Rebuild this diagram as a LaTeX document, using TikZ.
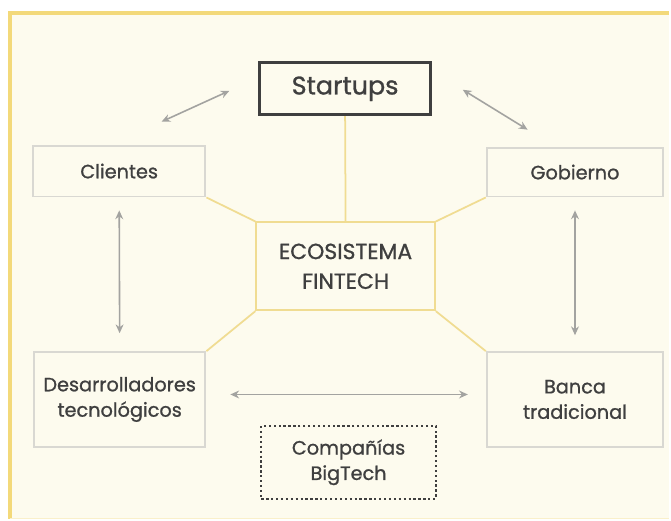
\documentclass[tikz,border=0pt]{standalone}
\usepackage{fontspec}
\setmainfont{Poppins}[FakeBold=1]
\usetikzlibrary{arrows.meta}
\definecolor{cream}{HTML}{FDFBEE}
\definecolor{frameyellow}{HTML}{F3D97A}
\definecolor{linkyellow}{HTML}{F0DC92}
\definecolor{boxgray}{HTML}{D9D8D2}
\definecolor{arrowgray}{HTML}{A3A3A0}
\definecolor{textgray}{HTML}{3F3F3F}
\tikzset{
  actor/.style={draw=boxgray, line width=1.1pt, text=textgray, align=center,
    font=\fontsize{11}{14.5}\selectfont, inner sep=0pt},
  hub/.style={draw=linkyellow, line width=1.1pt, text=textgray, align=center,
    font=\fontsize{12.5}{17}\selectfont, inner sep=0pt},
  link/.style={draw=linkyellow, line width=1pt},
  biarrow/.style={draw=arrowgray, line width=0.9pt, {Stealth[length=5pt,width=4.5pt]}-{Stealth[length=5pt,width=4.5pt]}}
}

\begin{document}
\begin{tikzpicture}[x=0.02cm, y=-0.02cm]
			%%%%% START %%%%%
			
			\fill[white] (0, 0) rectangle (671, 522);
			\fill[cream] (10, 13) rectangle (671, 519);
			\draw[frameyellow, line width=2pt] (10, 520) -- (10, 13) -- (671, 13);
			\draw[frameyellow!40, line width=0.6pt] (10, 519.5) -- (671, 519.5);
			
			\node[draw=textgray, line width=1.6pt, text=textgray, inner sep=0pt,
			  minimum width=3.44cm, minimum height=1.04cm,
			  font=\fontsize{14.5}{18}\selectfont] (startups) at (346, 89) {Startups};
			
			\node[hub, minimum width=3.58cm, minimum height=1.76cm] (fintech) at (346.5, 267) {ECOSISTEMA\\FINTECH};
			
			\node[actor, minimum width=3.46cm, minimum height=1.02cm] (clientes) at (119.5, 171.5) {Clientes};
			\node[actor, minimum width=3.54cm, minimum height=0.98cm] (gobierno) at (576.5, 172.5) {Gobierno};
			\node[actor, minimum width=3.44cm, minimum height=1.9cm] (desarrolladores) at (120, 400.5) {Desarrolladores\\tecnológicos};
			\node[actor, minimum width=3.54cm, minimum height=1.9cm] (banca) at (576.5, 400.5) {Banca\\tradicional};
			
			\node[draw=textgray, line width=1.3pt, dash pattern=on 1.3pt off 1.5pt, text=textgray,
			  align=center, inner sep=0pt, minimum width=3.5cm, minimum height=1.46cm,
			  font=\fontsize{11}{14.5}\selectfont] (bigtech) at (349.5, 463.5) {Compañías\\BigTech};
			
			%% lazos con el ecosistema
			\draw[link] (startups.south) -- (fintech.north);
			\draw[link] (clientes.south east) -- (fintech.north west);
			\draw[link] (gobierno.south west) -- (fintech.north east);
			\draw[link] (desarrolladores.north east) -- (fintech.south west);
			\draw[link] (banca.north west) -- (fintech.south east);
			
			%% flechas entre actores
			\coordinate (c1) at (162, 122);
			\coordinate (c2) at (230, 91);
			\coordinate (g1) at (464, 90);
			\coordinate (g2) at (529, 130);
			\draw[biarrow] (c1) -- (c2);
			\draw[biarrow] (g1) -- (g2);
			
			\draw[biarrow, shorten <=0.26cm, shorten >=0.36cm] (clientes.south) -- (desarrolladores.north);
			\draw[biarrow, shorten <=0.26cm, shorten >=0.32cm] (gobierno.south) -- (banca.north);
			\draw[biarrow, shorten <=0.48cm, shorten >=0.36cm] ([yshift=0.1cm]desarrolladores.east) -- ([yshift=0.1cm]banca.west);
			
			%%%%% END %%%%%
\end{tikzpicture}
\end{document}
